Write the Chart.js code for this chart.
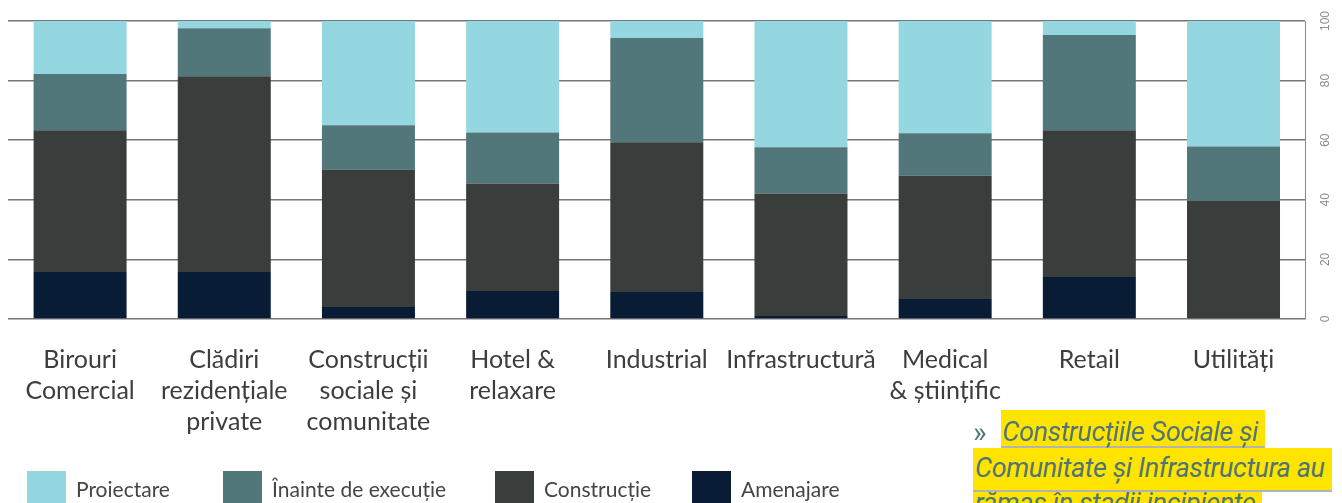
<!DOCTYPE html>
<html lang="ro">
<head>
<meta charset="utf-8">
<title>Stadiul proiectelor pe sectoare</title>
<script src="https://cdn.jsdelivr.net/npm/chart.js@4.4.1/dist/chart.umd.min.js"></script>
<style>
  html, body { margin: 0; padding: 0; background: #fff; }
  #page { position: relative; width: 1342px; height: 503px; overflow: hidden; }
  #chart { position: absolute; left: 0; top: 0; }
  .lg-box { position: absolute; top: 471px; width: 39px; height: 39px; }
  .lg-text { position: absolute; top: 477px; font: 21px/24px Lato, sans-serif; color: #454545; white-space: nowrap; }
  #note { position: absolute; left: 973px; top: 410px; font-family: Roboto, sans-serif; font-style: italic; font-size: 27px; letter-spacing: -0.4px; color: #4f7579; white-space: nowrap; }
  #note .row { position: absolute; left: 0; }
  #note .hl { display: inline-block; vertical-align: top; background: #ffe400; border-bottom: 2px solid #b3b3b3; padding: 0 7px 0 2px; box-sizing: border-box; }
  #note .arrow { display: inline-block; vertical-align: top; font-style: normal; font-size: 29px; line-height: 44px; letter-spacing: 0; margin-right: 14px; }
</style>
</head>
<body>
<div id="page">
  <canvas id="chart" width="1342" height="503"></canvas>
  <div id="legend"></div>
  <div id="note">
    <div class="row" style="top:0"><span class="arrow">»</span><span class="hl" style="height:38px;line-height:45px">Construcțiile Sociale și</span></div>
    <div class="row" style="top:38px"><span class="hl" style="height:44px;line-height:40px">Comunitate și Infrastructura au</span></div>
    <div class="row" style="top:82px"><span class="hl" style="height:44px;line-height:22px">rămas în stadii incipiente</span></div>
  </div>
</div>
<script>
const categories = [
    ['Birouri', 'Comercial'],
    ['Clădiri', 'rezidențiale', 'private'],
    ['Construcții', 'sociale și', 'comunitate'],
    ['Hotel &', 'relaxare'],
    ['Industrial'],
    ['Infrastructură'],
    ['Medical', '& științific'],
    ['Retail'],
    ['Utilități']
];

// share of projects per stage (%)
const amenajare   = [15.8, 15.8, 4.0, 9.4, 9.1, 1.0, 6.7, 14.1, 0.0];
const constructie = [47.5, 65.7, 46.2, 36.1, 50.2, 41.1, 41.4, 49.2, 39.7];
const inainte     = [18.9, 16.1, 14.8, 17.1, 35.0, 15.5, 14.2, 32.0, 18.2];
const proiectare  = [17.8, 2.4, 35.0, 37.4, 5.7, 42.4, 37.7, 4.7, 42.1];

const yTicks = [0, 20, 40, 60, 80, 100];

// bottom of the stack first
const series = [
    { label: 'Amenajare', data: amenajare, color: '#081c35' },
    { label: 'Construcție', data: constructie, color: '#393d3c' },
    { label: 'Înainte de execuție', data: inainte, color: '#51777b' },
    { label: 'Proiectare', data: proiectare, color: '#95d7e0' }
];

const ctx = document.getElementById('chart').getContext('2d');

const chart = new Chart(ctx, {
    type: 'bar',
    data: {
        labels: categories,
        datasets: series.map(s => ({
            label: s.label,
            data: s.data,
            backgroundColor: s.color,
            borderWidth: 0,
            categoryPercentage: 1,
            barPercentage: 0.645
        }))
    },
    options: {
        responsive: false,
        animation: false,
        layout: {
            padding: { left: 8, right: 2, top: 21, bottom: 49 }
        },
        plugins: {
            legend: { display: false },
            tooltip: { enabled: false }
        },
        scales: {
            x: {
                stacked: true,
                grid: { display: false },
                border: { display: false },
                ticks: {
                    autoSkip: false,
                    maxRotation: 0,
                    padding: 17,
                    color: '#3d3d3d',
                    font: { family: 'Lato', size: 25, lineHeight: '31px' }
                }
            },
            y: {
                stacked: true,
                position: 'right',
                min: 0,
                max: 100,
                afterBuildTicks: axis => {
                    axis.ticks = yTicks.map(v => ({ value: v }));
                },
                grid: {
                    color: '#777',
                    lineWidth: 1.5,
                    drawTicks: false
                },
                border: { display: true, color: '#8a8a8a', width: 1 },
                ticks: {
                    minRotation: 90,
                    maxRotation: 90,
                    crossAlign: 'center',
                    padding: 10,
                    color: '#8c8c8c',
                    font: { family: 'Liberation Sans', size: 12 }
                }
            }
        }
    }
});

// legend, in the order of the picture (top of the stack first)
const legendX = [27, 223, 495, 692];
const legend = document.getElementById('legend');
series.slice().reverse().forEach((s, i) => {
    const box = document.createElement('div');
    box.className = 'lg-box';
    box.style.left = legendX[i] + 'px';
    box.style.background = s.color;
    const txt = document.createElement('div');
    txt.className = 'lg-text';
    txt.style.left = (legendX[i] + 49) + 'px';
    txt.textContent = s.label;
    legend.appendChild(box);
    legend.appendChild(txt);
});
</script>
</body>
</html>
